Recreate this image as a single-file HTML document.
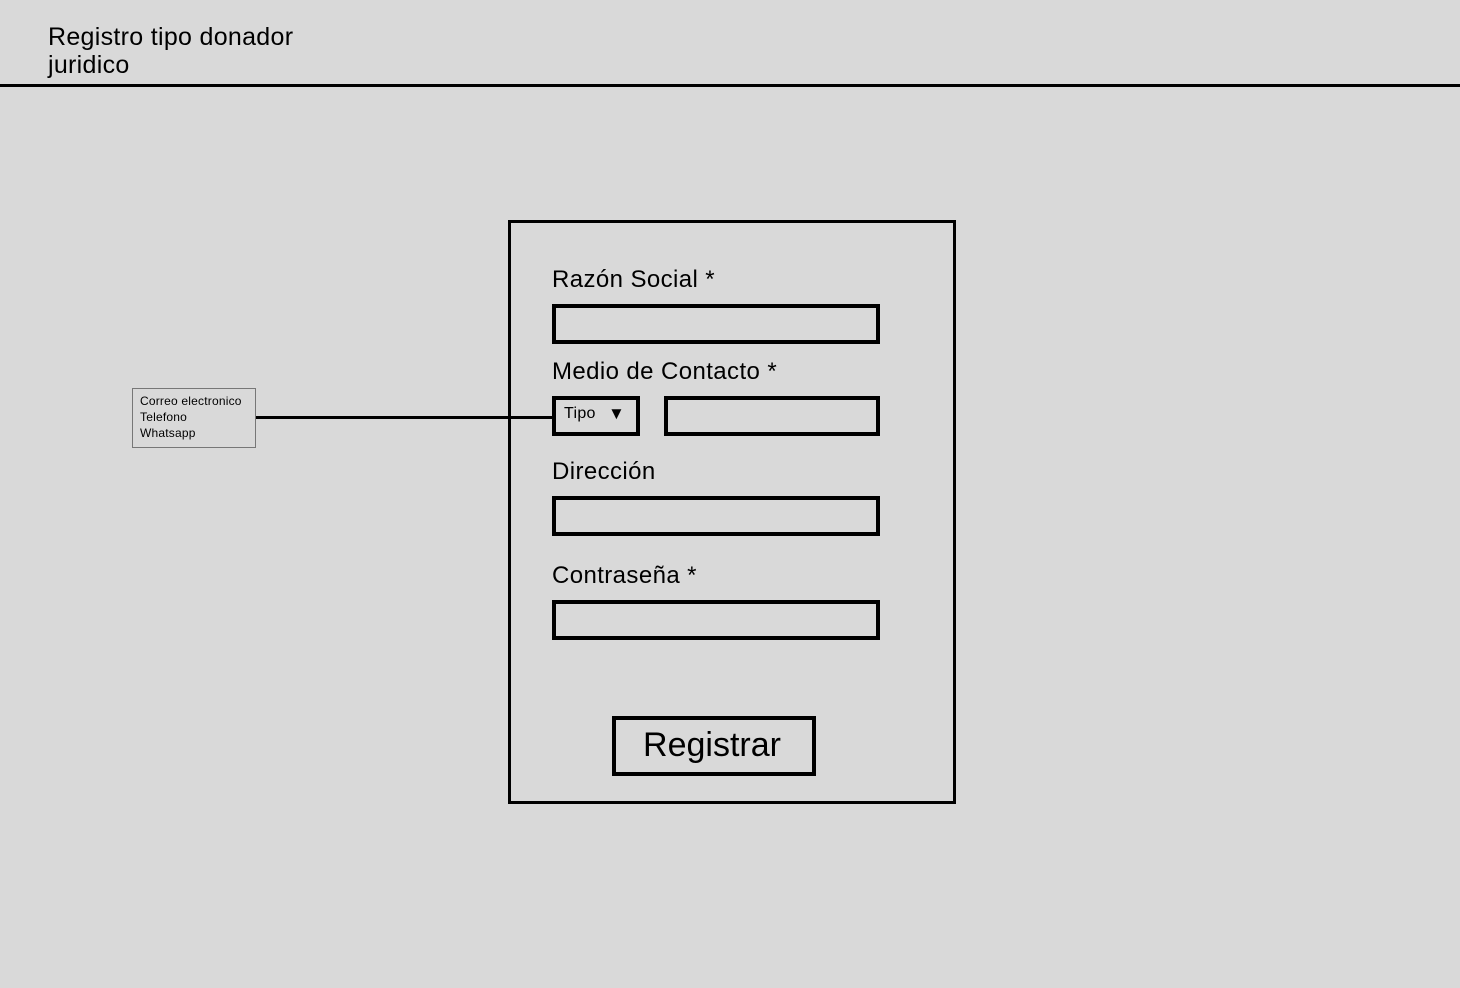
<!DOCTYPE html>
<html><head><meta charset="utf-8"><style>
body{margin:0;width:1460px;height:988px;background:#d9d9d9;position:relative;overflow:hidden;font-family:"Liberation Sans",sans-serif;color:#000}
.a{position:absolute;box-sizing:border-box}
.t{position:absolute;white-space:nowrap;line-height:1}
.in{position:absolute;box-sizing:border-box;border:4px solid #000}
.l{font-size:24px;letter-spacing:0.4px}
</style></head><body>
<div class="t" style="left:48px;top:23px;font-size:25px;line-height:28px;letter-spacing:0.3px">Registro tipo donador<br>juridico</div>
<div class="a" style="left:0;top:84px;width:1460px;height:3px;background:#000"></div>

<div class="a" style="left:508px;top:220px;width:448px;height:584px;border:3px solid #000"></div>

<div class="t l" style="left:552px;top:268px">Razón Social *</div>
<div class="in" style="left:552px;top:304px;width:328px;height:40px"></div>

<div class="t l" style="left:552px;top:360px">Medio de Contacto *</div>
<div class="in" style="left:552px;top:396px;width:88px;height:40px"></div>
<div class="t" style="left:564px;top:406px;font-size:16px;letter-spacing:0.3px">Tipo</div>
<div class="t" style="left:608px;top:405px;font-size:17px">▼</div>
<div class="in" style="left:664px;top:396px;width:216px;height:40px"></div>

<div class="t l" style="left:552px;top:460px">Dirección</div>
<div class="in" style="left:552px;top:496px;width:328px;height:40px"></div>

<div class="t l" style="left:552px;top:564px">Contraseña *</div>
<div class="in" style="left:552px;top:600px;width:328px;height:40px"></div>

<div class="a" style="left:612px;top:716px;width:204px;height:60px;border:4px solid #000"></div>
<div class="t" style="left:610px;top:728px;width:204px;text-align:center;font-size:34px">Registrar</div>

<div class="a" style="left:256px;top:416px;width:296px;height:3px;background:#000"></div>
<div class="a" style="left:132px;top:388px;width:124px;height:60px;border:1px solid #777"></div>
<div class="t" style="left:140px;top:393px;font-size:12px;line-height:16px;letter-spacing:0.2px">Correo electronico<br>Telefono<br>Whatsapp</div>
</body></html>
